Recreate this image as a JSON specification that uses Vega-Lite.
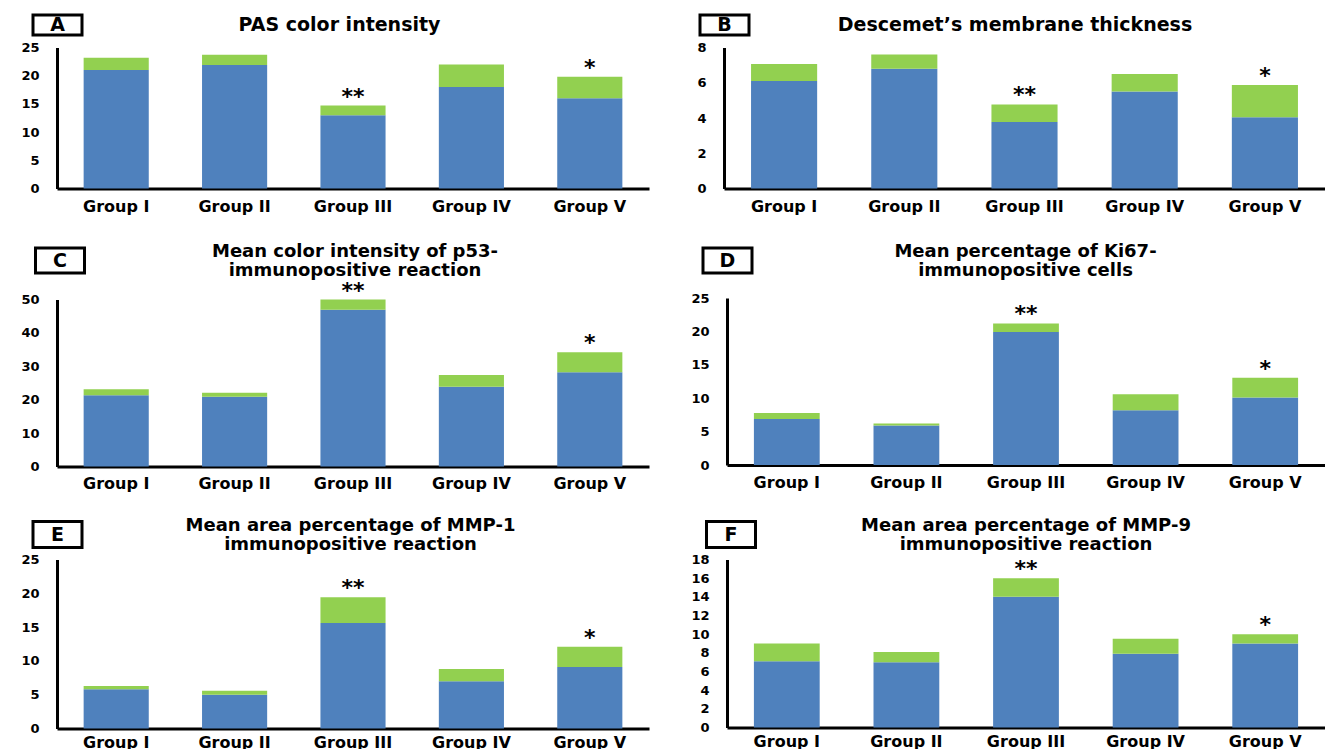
{
  "$schema": "https://vega.github.io/schema/vega-lite/v6.json",
  "background": "white",
  "autosize": {"type": "pad"},
  "padding": {"left": 20, "top": 9, "right": 0, "bottom": 0},
  "config": {"view": {"stroke": null}},
  "datasets": {
    "panels": [
      {"panel": "A", "letter": "A"}, {"panel": "B", "letter": "B"}, {"panel": "C", "letter": "C"},
      {"panel": "D", "letter": "D"}, {"panel": "E", "letter": "E"}, {"panel": "F", "letter": "F"}
    ],
    "titles": [
      {"panel": "A", "line": 1, "text": "PAS color intensity"},
      {"panel": "B", "line": 1, "text": "Descemet’s membrane thickness"},
      {"panel": "C", "line": 1, "text": "Mean color intensity of p53-"},
      {"panel": "C", "line": 2, "text": "immunopositive reaction"},
      {"panel": "D", "line": 1, "text": "Mean percentage of Ki67-"},
      {"panel": "D", "line": 2, "text": "immunopositive cells"},
      {"panel": "E", "line": 1, "text": "Mean area percentage of MMP-1"},
      {"panel": "E", "line": 2, "text": "immunopositive reaction"},
      {"panel": "F", "line": 1, "text": "Mean area percentage of MMP-9"},
      {"panel": "F", "line": 2, "text": "immunopositive reaction"}
    ],
    "bars": [
      {"panel": "A", "group": "Group I", "mean": 21.0, "total": 23.2, "sig": ""},
      {"panel": "A", "group": "Group II", "mean": 21.9, "total": 23.7, "sig": ""},
      {"panel": "A", "group": "Group III", "mean": 13.0, "total": 14.7, "sig": "**"},
      {"panel": "A", "group": "Group IV", "mean": 18.0, "total": 22.0, "sig": ""},
      {"panel": "A", "group": "Group V", "mean": 16.0, "total": 19.8, "sig": "*"},
      {"panel": "B", "group": "Group I", "mean": 6.1, "total": 7.07, "sig": ""},
      {"panel": "B", "group": "Group II", "mean": 6.8, "total": 7.6, "sig": ""},
      {"panel": "B", "group": "Group III", "mean": 3.77, "total": 4.77, "sig": "**"},
      {"panel": "B", "group": "Group IV", "mean": 5.5, "total": 6.5, "sig": ""},
      {"panel": "B", "group": "Group V", "mean": 4.04, "total": 5.87, "sig": "*"},
      {"panel": "C", "group": "Group I", "mean": 21.3, "total": 23.1, "sig": ""},
      {"panel": "C", "group": "Group II", "mean": 20.9, "total": 22.1, "sig": ""},
      {"panel": "C", "group": "Group III", "mean": 46.9, "total": 50.0, "sig": "**"},
      {"panel": "C", "group": "Group IV", "mean": 23.9, "total": 27.4, "sig": ""},
      {"panel": "C", "group": "Group V", "mean": 28.2, "total": 34.2, "sig": "*"},
      {"panel": "D", "group": "Group I", "mean": 6.9, "total": 7.8, "sig": ""},
      {"panel": "D", "group": "Group II", "mean": 5.9, "total": 6.2, "sig": ""},
      {"panel": "D", "group": "Group III", "mean": 19.9, "total": 21.2, "sig": "**"},
      {"panel": "D", "group": "Group IV", "mean": 8.2, "total": 10.6, "sig": ""},
      {"panel": "D", "group": "Group V", "mean": 10.1, "total": 13.05, "sig": "*"},
      {"panel": "E", "group": "Group I", "mean": 5.8, "total": 6.3, "sig": ""},
      {"panel": "E", "group": "Group II", "mean": 5.0, "total": 5.6, "sig": ""},
      {"panel": "E", "group": "Group III", "mean": 15.6, "total": 19.4, "sig": "**"},
      {"panel": "E", "group": "Group IV", "mean": 7.0, "total": 8.8, "sig": ""},
      {"panel": "E", "group": "Group V", "mean": 9.1, "total": 12.1, "sig": "*"},
      {"panel": "F", "group": "Group I", "mean": 7.1, "total": 9.0, "sig": ""},
      {"panel": "F", "group": "Group II", "mean": 7.0, "total": 8.1, "sig": ""},
      {"panel": "F", "group": "Group III", "mean": 14.0, "total": 16.0, "sig": "**"},
      {"panel": "F", "group": "Group IV", "mean": 7.9, "total": 9.5, "sig": ""},
      {"panel": "F", "group": "Group V", "mean": 9.0, "total": 10.0, "sig": "*"}
    ]
  },
  "spacing": 26.5,
  "vconcat": [
    {
      "spacing": 38,
      "hconcat": [
        {
          "spacing": 0.5,
          "vconcat": [
            {
              "spacing": 0,
              "hconcat": [
                {"width": 1, "height": 26, "data": {"name": "panels"}, "transform": [{"filter": "datum.panel === 'A'"}], "layer": [
                  {"mark": {"type": "point", "shape": "M-4.9,-2H4.9V2H-4.9Z", "size": 100, "filled": false, "color": "black", "strokeWidth": 3, "opacity": 1}, "encoding": {}},
                  {"mark": {"type": "text", "font": "DejaVu Sans", "fontWeight": "bold", "fontSize": 19, "baseline": "middle", "color": "black"}, "encoding": {"text": {"field": "letter", "type": "nominal"}}}
                ]},
                {"width": 503, "height": 26, "data": {"name": "titles"}, "transform": [{"filter": "datum.panel === 'A'"}], "mark": {"type": "text", "font": "DejaVu Sans", "fontWeight": "bold", "fontSize": 19, "baseline": "middle", "color": "black"}, "encoding": {"text": {"field": "text", "type": "nominal"}}}
              ]
            },
            {
              "width": 592, "height": 141,
              "data": {"name": "bars"},
              "transform": [{"filter": "datum.panel === 'A'"}],
              "encoding": {
                "x": {"field": "group", "type": "nominal", "sort": null, "scale": {"paddingInner": 0.45, "paddingOuter": 0.225}, "axis": {"title": null, "ticks": false, "tickSize": 0, "domainColor": "black", "domainWidth": 3, "labelAngle": 0, "labelPadding": 10, "labelFont": "DejaVu Sans", "labelFontWeight": "bold", "labelFontSize": 16, "labelColor": "black"}},
                "y": {"field": "mean", "type": "quantitative", "scale": {"domain": [0, 25], "nice": false}, "axis": {"title": null, "values": [0, 5, 10, 15, 20, 25], "grid": false, "ticks": false, "tickSize": 0, "minExtent": 37, "maxExtent": 37, "domainColor": "black", "domainWidth": 3, "labelPadding": 18, "labelFont": "DejaVu Sans", "labelFontWeight": "bold", "labelFontSize": 13, "labelColor": "black"}}
              },
              "layer": [
                {"mark": {"type": "bar", "color": "#4F81BD"}},
                {"mark": {"type": "bar", "color": "#92D050"}, "encoding": {"y2": {"field": "total"}}},
                {"transform": [{"filter": "datum.sig !== ''"}], "mark": {"type": "text", "font": "DejaVu Sans", "fontWeight": "bold", "fontSize": 22, "baseline": "alphabetic", "dy": -2, "color": "black"}, "encoding": {"y": {"field": "total", "type": "quantitative", "scale": {"domain": [0, 25], "nice": false}, "axis": {"title": null, "values": [0, 5, 10, 15, 20, 25], "grid": false, "ticks": false, "tickSize": 0, "minExtent": 37, "maxExtent": 37, "domainColor": "black", "domainWidth": 3, "labelPadding": 18, "labelFont": "DejaVu Sans", "labelFontWeight": "bold", "labelFontSize": 13, "labelColor": "black"}}, "text": {"field": "sig", "type": "nominal"}}}
              ]
            }
          ]
        },
        {
          "spacing": 0.5,
          "vconcat": [
            {
              "spacing": 0,
              "hconcat": [
                {"width": 1, "height": 26, "data": {"name": "panels"}, "transform": [{"filter": "datum.panel === 'B'"}], "layer": [
                  {"mark": {"type": "point", "shape": "M-4.9,-2H4.9V2H-4.9Z", "size": 100, "filled": false, "color": "black", "strokeWidth": 3, "opacity": 1}, "encoding": {}},
                  {"mark": {"type": "text", "font": "DejaVu Sans", "fontWeight": "bold", "fontSize": 19, "baseline": "middle", "color": "black"}, "encoding": {"text": {"field": "letter", "type": "nominal"}}}
                ]},
                {"width": 520, "height": 26, "data": {"name": "titles"}, "transform": [{"filter": "datum.panel === 'B'"}], "mark": {"type": "text", "font": "DejaVu Sans", "fontWeight": "bold", "fontSize": 19, "baseline": "middle", "color": "black"}, "encoding": {"text": {"field": "text", "type": "nominal"}}}
              ]
            },
            {
              "width": 601, "height": 141,
              "data": {"name": "bars"},
              "transform": [{"filter": "datum.panel === 'B'"}],
              "encoding": {
                "x": {"field": "group", "type": "nominal", "sort": null, "scale": {"paddingInner": 0.45, "paddingOuter": 0.225}, "axis": {"title": null, "ticks": false, "tickSize": 0, "domainColor": "black", "domainWidth": 3, "labelAngle": 0, "labelPadding": 10, "labelFont": "DejaVu Sans", "labelFontWeight": "bold", "labelFontSize": 16, "labelColor": "black"}},
                "y": {"field": "mean", "type": "quantitative", "scale": {"domain": [0, 8], "nice": false}, "axis": {"title": null, "values": [0, 2, 4, 6, 8], "grid": false, "ticks": false, "tickSize": 0, "minExtent": 37, "maxExtent": 37, "domainColor": "black", "domainWidth": 3, "labelPadding": 18, "labelFont": "DejaVu Sans", "labelFontWeight": "bold", "labelFontSize": 13, "labelColor": "black"}}
              },
              "layer": [
                {"mark": {"type": "bar", "color": "#4F81BD"}},
                {"mark": {"type": "bar", "color": "#92D050"}, "encoding": {"y2": {"field": "total"}}},
                {"transform": [{"filter": "datum.sig !== ''"}], "mark": {"type": "text", "font": "DejaVu Sans", "fontWeight": "bold", "fontSize": 22, "baseline": "alphabetic", "dy": -2, "color": "black"}, "encoding": {"y": {"field": "total", "type": "quantitative", "scale": {"domain": [0, 8], "nice": false}, "axis": {"title": null, "values": [0, 2, 4, 6, 8], "grid": false, "ticks": false, "tickSize": 0, "minExtent": 37, "maxExtent": 37, "domainColor": "black", "domainWidth": 3, "labelPadding": 18, "labelFont": "DejaVu Sans", "labelFontWeight": "bold", "labelFontSize": 13, "labelColor": "black"}}, "text": {"field": "sig", "type": "nominal"}}}
              ]
            }
          ]
        }
      ]
    },
    {
      "spacing": 24,
      "vconcat": [
        {
          "spacing": 41,
          "hconcat": [
            {
              "spacing": 0,
              "vconcat": [
                {
                  "spacing": 0,
                  "hconcat": [
                    {"width": 6, "height": 38, "data": {"name": "panels"}, "transform": [{"filter": "datum.panel === 'C'"}], "layer": [
                      {"mark": {"type": "point", "shape": "M-4.9,-2.5H4.9V2.5H-4.9Z", "size": 100, "filled": false, "color": "black", "strokeWidth": 3, "opacity": 1}, "encoding": {}},
                      {"mark": {"type": "text", "font": "DejaVu Sans", "fontWeight": "bold", "fontSize": 19, "baseline": "middle", "color": "black"}, "encoding": {"text": {"field": "letter", "type": "nominal"}}}
                    ]},
                    {"width": 528, "height": 38, "data": {"name": "titles"}, "transform": [{"filter": "datum.panel === 'C'"}], "layer": [
                      {"transform": [{"filter": "datum.line === 1"}], "mark": {"type": "text", "font": "DejaVu Sans", "fontWeight": "bold", "fontSize": 18, "baseline": "line-bottom", "lineHeight": 19, "color": "black"}, "encoding": {"text": {"field": "text", "type": "nominal"}}},
                      {"transform": [{"filter": "datum.line === 2"}], "mark": {"type": "text", "font": "DejaVu Sans", "fontWeight": "bold", "fontSize": 18, "baseline": "line-top", "lineHeight": 19, "color": "black"}, "encoding": {"text": {"field": "text", "type": "nominal"}}}
                    ]}
                  ]
                },
                {
                  "width": 592, "height": 167,
                  "data": {"name": "bars"},
                  "transform": [{"filter": "datum.panel === 'C'"}],
                  "encoding": {
                    "x": {"field": "group", "type": "nominal", "sort": null, "scale": {"paddingInner": 0.45, "paddingOuter": 0.225}, "axis": {"title": null, "ticks": false, "tickSize": 0, "domainColor": "black", "domainWidth": 3, "labelAngle": 0, "labelPadding": 9, "labelFont": "DejaVu Sans", "labelFontWeight": "bold", "labelFontSize": 16, "labelColor": "black"}},
                    "y": {"field": "mean", "type": "quantitative", "scale": {"domain": [0, 50], "nice": false}, "axis": {"title": null, "values": [0, 10, 20, 30, 40, 50], "grid": false, "ticks": false, "tickSize": 0, "minExtent": 37, "maxExtent": 37, "domainColor": "black", "domainWidth": 3, "labelPadding": 18, "labelFont": "DejaVu Sans", "labelFontWeight": "bold", "labelFontSize": 13, "labelColor": "black"}}
                  },
                  "layer": [
                    {"mark": {"type": "bar", "color": "#4F81BD"}},
                    {"mark": {"type": "bar", "color": "#92D050"}, "encoding": {"y2": {"field": "total"}}},
                    {"transform": [{"filter": "datum.sig !== ''"}], "mark": {"type": "text", "font": "DejaVu Sans", "fontWeight": "bold", "fontSize": 22, "baseline": "alphabetic", "dy": -2, "color": "black"}, "encoding": {"y": {"field": "total", "type": "quantitative", "scale": {"domain": [0, 50], "nice": false}, "axis": {"title": null, "values": [0, 10, 20, 30, 40, 50], "grid": false, "ticks": false, "tickSize": 0, "minExtent": 37, "maxExtent": 37, "domainColor": "black", "domainWidth": 3, "labelPadding": 18, "labelFont": "DejaVu Sans", "labelFontWeight": "bold", "labelFontSize": 13, "labelColor": "black"}}, "text": {"field": "sig", "type": "nominal"}}}
                  ]
                }
              ]
            },
            {
              "spacing": 12.5,
              "vconcat": [
                {
                  "spacing": 0,
                  "hconcat": [
                    {"width": 1, "height": 38, "data": {"name": "panels"}, "transform": [{"filter": "datum.panel === 'D'"}], "layer": [
                      {"mark": {"type": "point", "shape": "M-4.9,-2.5H4.9V2.5H-4.9Z", "size": 100, "filled": false, "color": "black", "strokeWidth": 3, "opacity": 1}, "encoding": {}},
                      {"mark": {"type": "text", "font": "DejaVu Sans", "fontWeight": "bold", "fontSize": 19, "baseline": "middle", "color": "black"}, "encoding": {"text": {"field": "letter", "type": "nominal"}}}
                    ]},
                    {"width": 535, "height": 38, "data": {"name": "titles"}, "transform": [{"filter": "datum.panel === 'D'"}], "layer": [
                      {"transform": [{"filter": "datum.line === 1"}], "mark": {"type": "text", "font": "DejaVu Sans", "fontWeight": "bold", "fontSize": 18, "baseline": "line-bottom", "lineHeight": 19, "color": "black"}, "encoding": {"text": {"field": "text", "type": "nominal"}}},
                      {"transform": [{"filter": "datum.line === 2"}], "mark": {"type": "text", "font": "DejaVu Sans", "fontWeight": "bold", "fontSize": 18, "baseline": "line-top", "lineHeight": 19, "color": "black"}, "encoding": {"text": {"field": "text", "type": "nominal"}}}
                    ]}
                  ]
                },
                {
                  "width": 598, "height": 167,
                  "data": {"name": "bars"},
                  "transform": [{"filter": "datum.panel === 'D'"}],
                  "encoding": {
                    "x": {"field": "group", "type": "nominal", "sort": null, "scale": {"paddingInner": 0.45, "paddingOuter": 0.225}, "axis": {"title": null, "ticks": false, "tickSize": 0, "domainColor": "black", "domainWidth": 3, "labelAngle": 0, "labelPadding": 9, "labelFont": "DejaVu Sans", "labelFontWeight": "bold", "labelFontSize": 16, "labelColor": "black"}},
                    "y": {"field": "mean", "type": "quantitative", "scale": {"domain": [0, 25], "nice": false}, "axis": {"title": null, "values": [0, 5, 10, 15, 20, 25], "grid": false, "ticks": false, "tickSize": 0, "minExtent": 37, "maxExtent": 37, "domainColor": "black", "domainWidth": 3, "labelPadding": 18, "labelFont": "DejaVu Sans", "labelFontWeight": "bold", "labelFontSize": 13, "labelColor": "black"}}
                  },
                  "layer": [
                    {"mark": {"type": "bar", "color": "#4F81BD"}},
                    {"mark": {"type": "bar", "color": "#92D050"}, "encoding": {"y2": {"field": "total"}}},
                    {"transform": [{"filter": "datum.sig !== ''"}], "mark": {"type": "text", "font": "DejaVu Sans", "fontWeight": "bold", "fontSize": 22, "baseline": "alphabetic", "dy": -2, "color": "black"}, "encoding": {"y": {"field": "total", "type": "quantitative", "scale": {"domain": [0, 25], "nice": false}, "axis": {"title": null, "values": [0, 5, 10, 15, 20, 25], "grid": false, "ticks": false, "tickSize": 0, "minExtent": 37, "maxExtent": 37, "domainColor": "black", "domainWidth": 3, "labelPadding": 18, "labelFont": "DejaVu Sans", "labelFontWeight": "bold", "labelFontSize": 13, "labelColor": "black"}}, "text": {"field": "sig", "type": "nominal"}}}
                  ]
                }
              ]
            }
          ]
        },
        {
          "spacing": 41,
          "hconcat": [
            {
              "spacing": 0,
              "vconcat": [
                {
                  "spacing": 0,
                  "hconcat": [
                    {"width": 1, "height": 38, "data": {"name": "panels"}, "transform": [{"filter": "datum.panel === 'E'"}], "layer": [
                      {"mark": {"type": "point", "shape": "M-4.9,-2.6H4.9V2.6H-4.9Z", "size": 100, "filled": false, "color": "black", "strokeWidth": 3, "opacity": 1}, "encoding": {}},
                      {"mark": {"type": "text", "font": "DejaVu Sans", "fontWeight": "bold", "fontSize": 19, "baseline": "middle", "color": "black"}, "encoding": {"text": {"field": "letter", "type": "nominal"}}}
                    ]},
                    {"width": 525, "height": 38, "data": {"name": "titles"}, "transform": [{"filter": "datum.panel === 'E'"}], "layer": [
                      {"transform": [{"filter": "datum.line === 1"}], "mark": {"type": "text", "font": "DejaVu Sans", "fontWeight": "bold", "fontSize": 18, "baseline": "line-bottom", "lineHeight": 19, "color": "black"}, "encoding": {"text": {"field": "text", "type": "nominal"}}},
                      {"transform": [{"filter": "datum.line === 2"}], "mark": {"type": "text", "font": "DejaVu Sans", "fontWeight": "bold", "fontSize": 18, "baseline": "line-top", "lineHeight": 19, "color": "black"}, "encoding": {"text": {"field": "text", "type": "nominal"}}}
                    ]}
                  ]
                },
                {
                  "width": 592, "height": 169,
                  "data": {"name": "bars"},
                  "transform": [{"filter": "datum.panel === 'E'"}],
                  "encoding": {
                    "x": {"field": "group", "type": "nominal", "sort": null, "scale": {"paddingInner": 0.45, "paddingOuter": 0.225}, "axis": {"title": null, "ticks": false, "tickSize": 0, "domainColor": "black", "domainWidth": 3, "labelAngle": 0, "labelPadding": 6, "labelFont": "DejaVu Sans", "labelFontWeight": "bold", "labelFontSize": 16, "labelColor": "black"}},
                    "y": {"field": "mean", "type": "quantitative", "scale": {"domain": [0, 25], "nice": false}, "axis": {"title": null, "values": [0, 5, 10, 15, 20, 25], "grid": false, "ticks": false, "tickSize": 0, "minExtent": 37, "maxExtent": 37, "domainColor": "black", "domainWidth": 3, "labelPadding": 18, "labelFont": "DejaVu Sans", "labelFontWeight": "bold", "labelFontSize": 13, "labelColor": "black"}}
                  },
                  "layer": [
                    {"mark": {"type": "bar", "color": "#4F81BD"}},
                    {"mark": {"type": "bar", "color": "#92D050"}, "encoding": {"y2": {"field": "total"}}},
                    {"transform": [{"filter": "datum.sig !== ''"}], "mark": {"type": "text", "font": "DejaVu Sans", "fontWeight": "bold", "fontSize": 22, "baseline": "alphabetic", "dy": -2, "color": "black"}, "encoding": {"y": {"field": "total", "type": "quantitative", "scale": {"domain": [0, 25], "nice": false}, "axis": {"title": null, "values": [0, 5, 10, 15, 20, 25], "grid": false, "ticks": false, "tickSize": 0, "minExtent": 37, "maxExtent": 37, "domainColor": "black", "domainWidth": 3, "labelPadding": 18, "labelFont": "DejaVu Sans", "labelFontWeight": "bold", "labelFontSize": 13, "labelColor": "black"}}, "text": {"field": "sig", "type": "nominal"}}}
                  ]
                }
              ]
            },
            {
              "spacing": 0,
              "vconcat": [
                {
                  "spacing": 0,
                  "hconcat": [
                    {"width": 8, "height": 38, "data": {"name": "panels"}, "transform": [{"filter": "datum.panel === 'F'"}], "layer": [
                      {"mark": {"type": "point", "shape": "M-4.9,-2.6H4.9V2.6H-4.9Z", "size": 100, "filled": false, "color": "black", "strokeWidth": 3, "opacity": 1}, "encoding": {}},
                      {"mark": {"type": "text", "font": "DejaVu Sans", "fontWeight": "bold", "fontSize": 19, "baseline": "middle", "color": "black"}, "encoding": {"text": {"field": "letter", "type": "nominal"}}}
                    ]},
                    {"width": 528, "height": 38, "data": {"name": "titles"}, "transform": [{"filter": "datum.panel === 'F'"}], "layer": [
                      {"transform": [{"filter": "datum.line === 1"}], "mark": {"type": "text", "font": "DejaVu Sans", "fontWeight": "bold", "fontSize": 18, "baseline": "line-bottom", "lineHeight": 19, "color": "black"}, "encoding": {"text": {"field": "text", "type": "nominal"}}},
                      {"transform": [{"filter": "datum.line === 2"}], "mark": {"type": "text", "font": "DejaVu Sans", "fontWeight": "bold", "fontSize": 18, "baseline": "line-top", "lineHeight": 19, "color": "black"}, "encoding": {"text": {"field": "text", "type": "nominal"}}}
                    ]}
                  ]
                },
                {
                  "width": 598, "height": 168,
                  "data": {"name": "bars"},
                  "transform": [{"filter": "datum.panel === 'F'"}],
                  "encoding": {
                    "x": {"field": "group", "type": "nominal", "sort": null, "scale": {"paddingInner": 0.45, "paddingOuter": 0.225}, "axis": {"title": null, "ticks": false, "tickSize": 0, "domainColor": "black", "domainWidth": 3, "labelAngle": 0, "labelPadding": 6, "labelFont": "DejaVu Sans", "labelFontWeight": "bold", "labelFontSize": 16, "labelColor": "black"}},
                    "y": {"field": "mean", "type": "quantitative", "scale": {"domain": [0, 18], "nice": false}, "axis": {"title": null, "values": [0, 2, 4, 6, 8, 10, 12, 14, 16, 18], "grid": false, "ticks": false, "tickSize": 0, "minExtent": 37, "maxExtent": 37, "domainColor": "black", "domainWidth": 3, "labelPadding": 18, "labelFont": "DejaVu Sans", "labelFontWeight": "bold", "labelFontSize": 13, "labelColor": "black"}}
                  },
                  "layer": [
                    {"mark": {"type": "bar", "color": "#4F81BD"}},
                    {"mark": {"type": "bar", "color": "#92D050"}, "encoding": {"y2": {"field": "total"}}},
                    {"transform": [{"filter": "datum.sig !== ''"}], "mark": {"type": "text", "font": "DejaVu Sans", "fontWeight": "bold", "fontSize": 22, "baseline": "alphabetic", "dy": -2, "color": "black"}, "encoding": {"y": {"field": "total", "type": "quantitative", "scale": {"domain": [0, 18], "nice": false}, "axis": {"title": null, "values": [0, 2, 4, 6, 8, 10, 12, 14, 16, 18], "grid": false, "ticks": false, "tickSize": 0, "minExtent": 37, "maxExtent": 37, "domainColor": "black", "domainWidth": 3, "labelPadding": 18, "labelFont": "DejaVu Sans", "labelFontWeight": "bold", "labelFontSize": 13, "labelColor": "black"}}, "text": {"field": "sig", "type": "nominal"}}}
                  ]
                }
              ]
            }
          ]
        }
      ]
    }
  ]
}
